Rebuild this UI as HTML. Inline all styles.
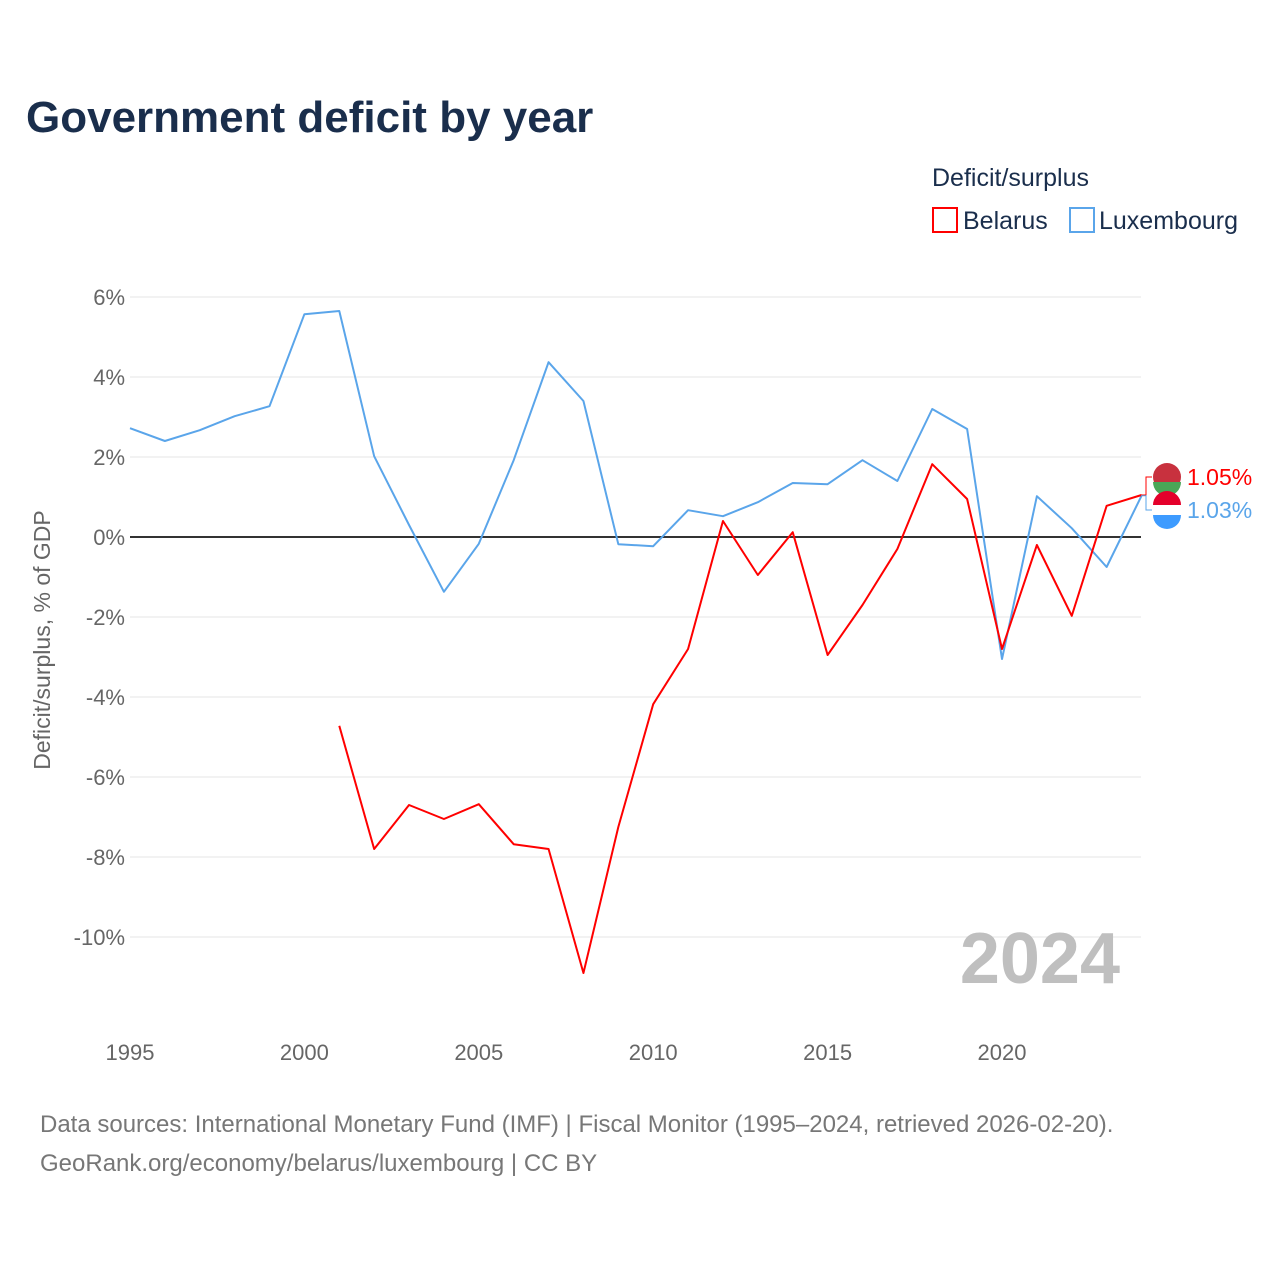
<!DOCTYPE html>
<html><head><meta charset="utf-8">
<style>
body{margin:0;background:#fff;font-family:"Liberation Sans",sans-serif;}
#wrap{position:relative;width:1280px;height:1280px;}
</style></head>
<body>
<div id="wrap">
<svg id="chart" width="1280" height="1280" xmlns="http://www.w3.org/2000/svg">
<text x="26" y="132" font-size="44" font-weight="bold" fill="#1a2e4c">Government deficit by year</text>
<text x="932" y="186" font-size="25" fill="#1a2e4c">Deficit/surplus</text>
<g><rect x="933" y="208" width="24" height="24" fill="none" stroke="#ff0000" stroke-width="2"/><text x="963" y="229" font-size="25" fill="#1a2e4c">Belarus</text></g>
<g><rect x="1070" y="208" width="24" height="24" fill="none" stroke="#5aa5ea" stroke-width="2"/><text x="1099" y="229" font-size="25" fill="#1a2e4c">Luxembourg</text></g>
<text transform="translate(50,640) rotate(-90)" text-anchor="middle" font-size="23" fill="#666">Deficit/surplus, % of GDP</text>
<g id="grid"></g><g id="series"></g>
<text x="1120" y="983" text-anchor="end" font-size="72" font-weight="bold" fill="#bfbfbf">2024</text>
<text x="40" y="1132" font-size="24" fill="#777">Data sources: International Monetary Fund (IMF) | Fiscal Monitor (1995–2024, retrieved 2026-02-20).</text>
<text x="40" y="1171" font-size="24" fill="#777">GeoRank.org/economy/belarus/luxembourg | CC BY</text>
</svg></div>
<script>
const years=[1995,1996,1997,1998,1999,2000,2001,2002,2003,2004,2005,2006,2007,2008,2009,2010,2011,2012,2013,2014,2015,2016,2017,2018,2019,2020,2021,2022,2023,2024];
const luxembourg=[2.72,2.4,2.67,3.02,3.27,5.57,5.65,2.02,0.3,-1.37,-0.17,1.92,4.37,3.4,-0.18,-0.23,0.67,0.52,0.87,1.35,1.32,1.92,1.4,3.2,2.7,-3.05,1.02,0.22,-0.75,1.03];
const belarus=[null,null,null,null,null,null,-4.72,-7.8,-6.7,-7.05,-6.68,-7.68,-7.8,-10.9,-7.25,-4.18,-2.8,0.4,-0.95,0.12,-2.95,-1.7,-0.3,1.82,0.95,-2.8,-0.2,-1.97,0.78,1.05];
const yTicks=[6,4,2,0,-2,-4,-6,-8,-10];
const xTicks=[1995,2000,2005,2010,2015,2020];
const NS="http://www.w3.org/2000/svg";
const xs=y=>130+(y-1995)*34.88;
const ys=v=>537-v*40;
const grid=document.getElementById('grid'),ser=document.getElementById('series');
function mk(tag,attrs,parent){const e=document.createElementNS(NS,tag);for(const k in attrs)e.setAttribute(k,attrs[k]);parent.appendChild(e);return e;}
yTicks.forEach(t=>{
 const l=mk('line',{x1:130,x2:1141,y1:ys(t),y2:ys(t),stroke:t===0?'#333':'#e6e6e6','stroke-width':t===0?2:1},grid);
 
 
 const tx=mk('text',{x:125,y:ys(t)+8,'text-anchor':'end','font-size':22,fill:'#666'},grid);
 tx.textContent=t+'%';
 
 
});
xTicks.forEach(t=>{
 const tx=mk('text',{x:xs(t),y:1060,'text-anchor':'middle','font-size':22,fill:'#666'},grid);
 tx.textContent=t;
 
 
});
function line(vals,color,name){
 let d='';let pen=false;
 vals.forEach((v,i)=>{if(v===null){pen=false;return;}d+=(pen?'L':'M')+xs(years[i])+','+ys(v);pen=true;});
 const p=mk('path',{d:d,fill:'none',stroke:color,'stroke-width':2,'stroke-linejoin':'round'},ser);
 
 
}
line(luxembourg,'#5aa5ea','luxembourg-line');
line(belarus,'#ff0000','belarus-line');
const lb=belarus[belarus.length-1],ll=luxembourg[luxembourg.length-1];
const by=477,ly=510;
mk('path',{d:`M1141,${ys(lb)} L1146,${ys(lb)} L1146,${by} L1152,${by}`,fill:'none',stroke:'#ff0000'},ser);
mk('path',{d:`M1141,${ys(ll)} L1146,${ys(ll)} L1146,${ly} L1152,${ly}`,fill:'none',stroke:'#5aa5ea'},ser);
const f1=mk('g',{},ser);


mk('circle',{cx:1167,cy:by,r:14,fill:'#c8313e'},f1);
mk('path',{d:`M1153,${by+5} A14,14 0 0 0 1181,${by+5} Z`,fill:'#4aa657'},f1);
const f2=mk('g',{},ser);


mk('circle',{cx:1167,cy:ly,r:14,fill:'#fff'},f2);
mk('path',{d:`M1153,${ly-5} A14,14 0 0 1 1181,${ly-5} Z`,fill:'#e4002b'},f2);
mk('path',{d:`M1153,${ly+5} A14,14 0 0 0 1181,${ly+5} Z`,fill:'#3d9bff'},f2);
const t1=mk('text',{x:1187,y:by+8,'font-size':23,fill:'#ff0000'},ser);t1.textContent=lb.toFixed(2)+'%';


const t2=mk('text',{x:1187,y:ly+8,'font-size':23,fill:'#5aa5ea'},ser);t2.textContent=ll.toFixed(2)+'%';


</script>
</body></html>
